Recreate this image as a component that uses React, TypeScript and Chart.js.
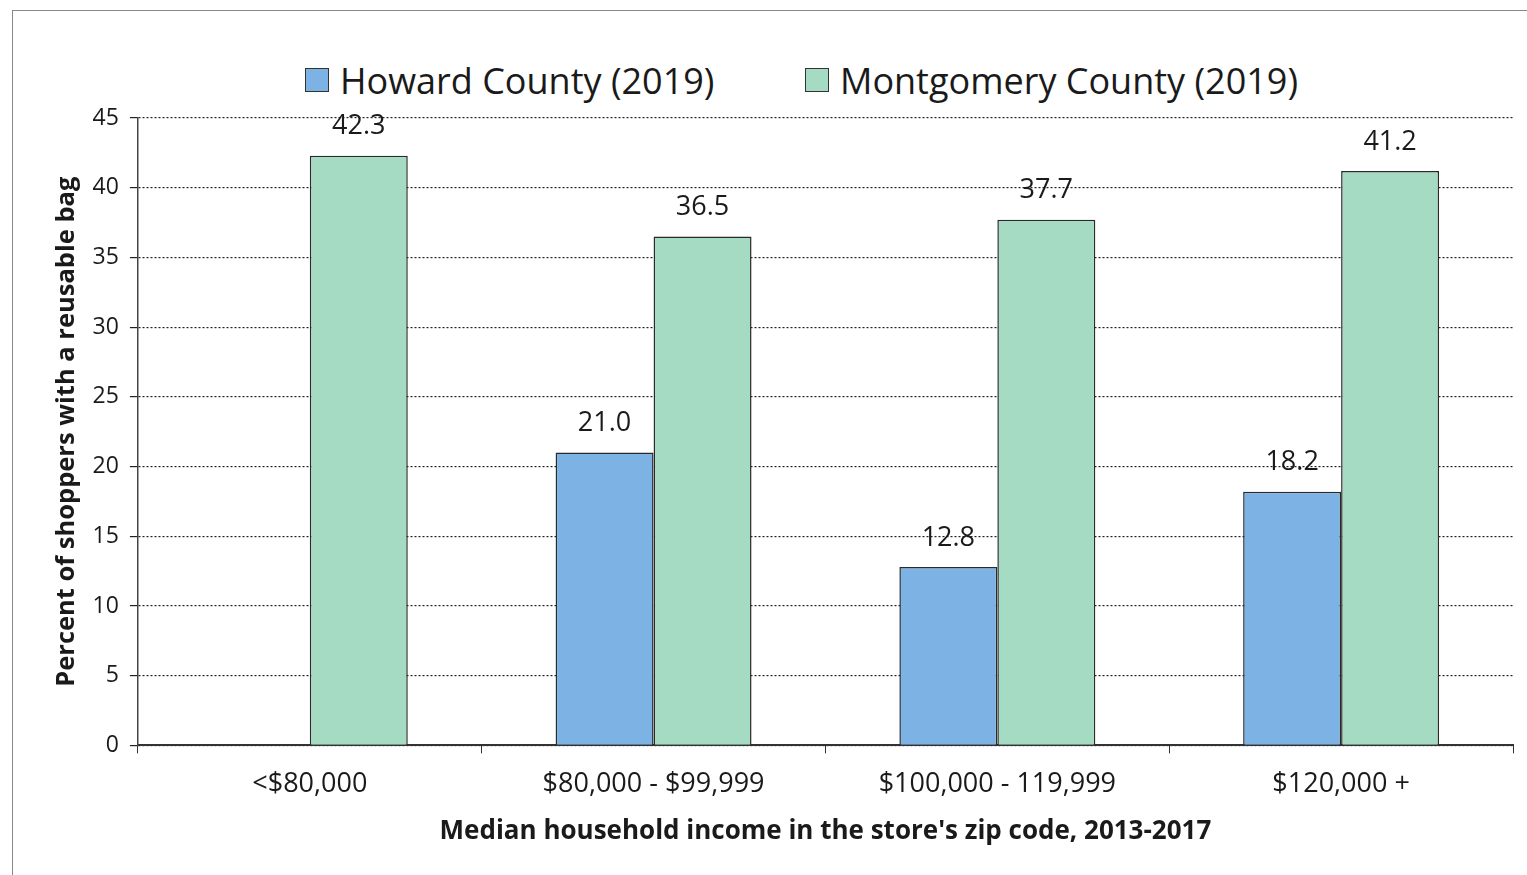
import React, { useEffect, useRef } from "react";
import { Chart, registerables } from "chart.js";

Chart.register(...registerables);

const categories = ["<$80,000", "$80,000 - $99,999", "$100,000 - 119,999", "$120,000 +"];
const howard: (number | null)[] = [null, 21.0, 12.8, 18.2];
const montgomery: number[] = [42.3, 36.5, 37.7, 41.2];
const seriesNames = ["Howard County (2019)", "Montgomery County (2019)"];
const seriesColors = ["#7CB3E4", "#A5DBC2"];
const yTitle = "Percent of shoppers with a reusable bag";
const xTitle = "Median household income in the store's zip code, 2013-2017";

const FONT = "'Open Sans', 'Noto Sans', sans-serif";

const valueLabels = {
  id: "valueLabels",
  afterDatasetsDraw(chart: any) {
    const { ctx } = chart;
    ctx.save();
    ctx.font = `27px ${FONT}`;
    ctx.fillStyle = "#1a1a1a";
    ctx.textAlign = "center";
    ctx.textBaseline = "middle";
    chart.data.datasets.forEach((ds: any, i: number) => {
      const meta = chart.getDatasetMeta(i);
      meta.data.forEach((bar: any, j: number) => {
        const v = ds.data[j];
        if (v === null || v === undefined) return;
        ctx.fillText(Number(v).toFixed(1), bar.x, bar.y - 29);
      });
    });
    ctx.restore();
  },
};

export default function App() {
  const ref = useRef<HTMLCanvasElement>(null);
  useEffect(() => {
    if (!ref.current) return;
    const chart = new Chart(ref.current, {
      type: "bar",
      data: {
        labels: categories,
        datasets: [
          {
            label: seriesNames[0],
            data: howard,
            backgroundColor: seriesColors[0],
            borderColor: "#2a2a2a",
            borderWidth: 1.5,
            borderSkipped: "bottom",
          },
          {
            label: seriesNames[1],
            data: montgomery,
            backgroundColor: seriesColors[1],
            borderColor: "#2a2a2a",
            borderWidth: 1.5,
            borderSkipped: "bottom",
          },
        ],
      },
      options: {
        animation: false,
        responsive: true,
        maintainAspectRatio: false,
        datasets: { bar: { categoryPercentage: 0.57, barPercentage: 1.0 } },
        layout: { padding: { left: 37, right: 14, top: 106, bottom: 15 } },
        plugins: {
          legend: { display: false },
          tooltip: { enabled: false },
        },
        scales: {
          x: {
            grid: {
              display: true,
              drawOnChartArea: false,
              drawTicks: true,
              tickLength: 8,
              color: "#333",
            },
            border: { display: true, color: "#333", width: 2 },
            ticks: {
              font: { family: FONT, size: 27 },
              color: "#1a1a1a",
              padding: 15,
            },
            title: {
              display: true,
              text: xTitle,
              font: { family: FONT, size: 26, weight: "bold" },
              color: "#1a1a1a",
              padding: { top: 0, bottom: 0 },
            },
          },
          y: {
            min: 0,
            max: 45,
            ticks: {
              stepSize: 5,
              font: { family: FONT, size: 23 },
              color: "#1a1a1a",
              padding: 11,
            },
            grid: {
              color: "#222",
              lineWidth: 1.2,
              tickLength: 8,
            },
            border: { display: true, color: "#444", width: 1.5, dash: [2, 2] },
            title: {
              display: true,
              text: yTitle,
              font: { family: FONT, size: 25.5, weight: "bold" },
              color: "#1a1a1a",
              padding: { top: 0, bottom: 0 },
            },
          },
        },
      },
      plugins: [valueLabels],
    });
    return () => chart.destroy();
  }, []);

  const legendItem = (i: number, boxLeft: number) => (
    <div
      key={i}
      style={{
        position: "absolute",
        left: boxLeft,
        top: 56,
        height: 48,
        display: "flex",
        alignItems: "center",
        fontFamily: FONT,
        fontSize: 36,
        color: "#1a1a1a",
        whiteSpace: "nowrap",
      }}
    >
      <span
        style={{
          display: "inline-block",
          width: 22,
          height: 22,
          background: seriesColors[i],
          border: "1.5px solid #333",
          marginRight: 11,
        }}
      />
      <span>{seriesNames[i]}</span>
    </div>
  );

  return (
    <div
      style={{
        position: "fixed",
        left: 0,
        top: 0,
        width: 1527,
        height: 875,
        background: "#fff",
      }}
    >
      <div
        style={{
          position: "absolute",
          left: 12,
          top: 10,
          width: 1530,
          height: 880,
          borderLeft: "1.5px solid #888",
          borderTop: "1.5px solid #888",
        }}
      />
      {legendItem(0, 305)}
      {legendItem(1, 805)}
      <div style={{ position: "absolute", left: 14, top: 12, width: 1513, height: 850 }}>
        <canvas ref={ref} />
      </div>
    </div>
  );
}
